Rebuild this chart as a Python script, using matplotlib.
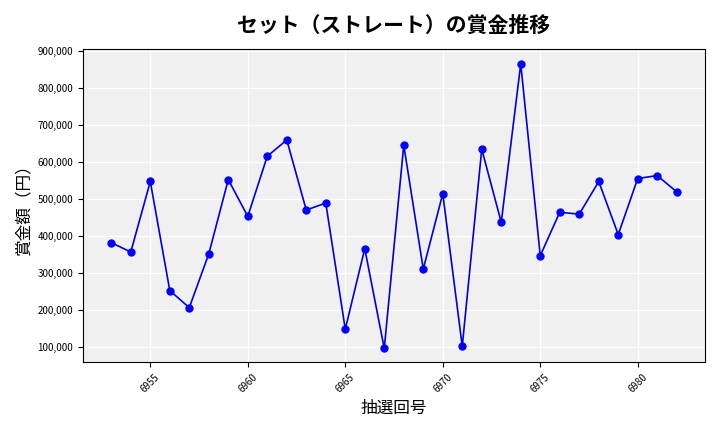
import matplotlib
matplotlib.use("Agg")
import matplotlib.pyplot as plt
from matplotlib.ticker import FuncFormatter

plt.rcParams['font.family'] = ['Noto Sans CJK JP', 'DejaVu Sans']

draws = list(range(6953, 6983))
prizes = [382000, 357000, 547000, 253000, 207000, 352000, 552000, 453000,
          615000, 659000, 470000, 489000, 149000, 366000, 97000, 645000,
          311000, 514000, 103000, 634000, 437000, 864000, 347000, 464000,
          459000, 547000, 404000, 555000, 563000, 519000]

fig, ax = plt.subplots(figsize=(7.2, 4.32), dpi=100)
ax.set_facecolor('#f0f0f0')
ax.grid(True, color='white', linewidth=1)
ax.set_axisbelow(True)

ax.plot(draws, prizes, color='#0000dd', marker='o', markersize=5,
        markerfacecolor='blue', markeredgecolor='blue', linewidth=1.2)

ax.set_title('セット（ストレート）の賞金推移', fontsize=15, fontweight='bold', pad=12)
ax.set_xlabel('抽選回号', fontsize=12)
ax.set_ylabel('賞金額（円）', fontsize=12)
ax.yaxis.set_major_formatter(FuncFormatter(lambda v, p: f'{int(v):,}'))
ax.set_xticks(range(6955, 6983, 5))
ax.set_yticks(range(100000, 900001, 100000))
ax.tick_params(axis='x', labelsize=7, rotation=45)
ax.tick_params(axis='y', labelsize=7)
ax.set_ylim(60000, 905000)

fig.tight_layout()
fig.savefig('out.png')
